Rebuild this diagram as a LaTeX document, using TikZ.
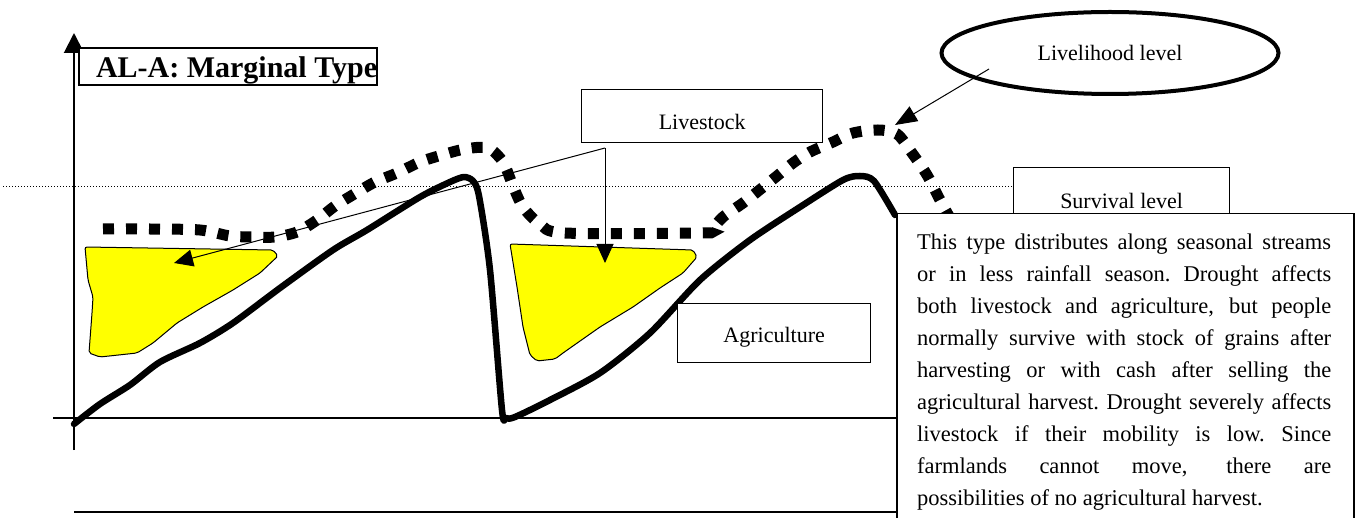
\documentclass[tikz,border=0pt]{standalone}
\usepackage{fontspec}
\setmainfont{Liberation Serif}
\usetikzlibrary{arrows.meta,shapes.geometric}
\definecolor{cropyellow}{RGB}{255,255,0}

% one justified line of the description, spread to the full measure
\newcommand\fullline[1]{\hbox to 414pt{\spaceskip=5.5pt plus 40pt minus 1pt\relax
  \xspaceskip=\spaceskip #1}}

\begin{document}
\begin{tikzpicture}[x=1pt,y=-1pt,
  axisline/.style={line width=2pt},
  guide/.style={line width=0.9pt, dash pattern=on 1pt off 2pt},
  income/.style={line width=6.5pt, line join=round, line cap=round},
  livelihood/.style={line width=11pt, dash pattern=on 11pt off 12pt},
  field/.style={draw, line width=1pt, fill=cropyellow, rounded corners=2pt},
  pointer/.style={line width=1pt, -{Triangle[length=19pt,width=17pt]}},
  boxlabel/.style={draw, line width=1.3pt, fill=white, inner sep=0pt,
                   font=\fontsize{22}{26}\selectfont},
  bodytext/.style={font=\fontsize{22.5}{32}\selectfont},
]
\useasboundingbox (0,0) rectangle (1359,518);

% axes
\coordinate (ybot) at (74,450);
\coordinate (ytop) at (74,33);
\coordinate (xl) at (53,418);
\coordinate (xr) at (896,418);
\coordinate (bl) at (74,512);
\coordinate (br) at (896,512);
\draw[axisline, -{Triangle[length=20pt,width=20pt]}] (ybot) -- (ytop);
\draw[line width=1.5pt] (xl) -- (xr);
\draw[line width=2.5pt] (bl) -- (br);

% survival threshold
\coordinate (gl) at (3,186);
\coordinate (gr) at (1013,186);
\draw[guide] (gl) -- (gr);

% cultivated fields
\draw[field] (85,247) -- (273,250) -- (278,256) -- (260,273) -- (233,290)
  -- (203,307) -- (177,323) -- (153,343) -- (137,353) -- (100,357)
  -- (89,353) -- (92,313) -- (93,297) -- (88,280) -- cycle;
\draw[field] (510,244) -- (693,250) -- (697,257) -- (683,273) -- (660,288)
  -- (633,307) -- (600,327) -- (563,353) -- (555,359) -- (537,361)
  -- (530,355) -- (523,327) -- (517,287) -- cycle;

% income curve
\draw[income] plot[smooth, tension=0.45] coordinates {
  (74,424) (100,404) (130,385) (160,362) (200,343) (233,323) (280,288)
  (333,250) (367,230) (420,197) (450,182) (464,177) (473,181) (479,196)
  (490,270) (502,410) (506,418) (515,417) (550,400) (600,373) (650,333)
  (700,280) (750,240) (800,207) (843,180) (860,176) (874,181) (895,215)};

% livelihood curve
\draw[livelihood] plot[smooth, tension=0.5] coordinates {
  (103,229) (150,229) (200,230) (230,236) (255,237) (275,237) (297,232)
  (317,220) (335,206) (356,193) (375,182) (397,173) (420,162) (442,155)
  (465,149) (488,148) (503,162) (513,186) (523,207) (540,224) (565,233)
  (700,233) (710,231) (723,217) (743,203) (762,188) (777,176) (793,163)
  (810,152) (833,142) (853,133) (878,130) (897,134) (912,153) (927,175)
  (940,200) (950,218)};

% labels
\node[boxlabel, anchor=north west, minimum width=241pt, text height=40pt, text depth=13pt]
  (livestock) at (581,89) {Livestock};
\node[boxlabel, anchor=north west, minimum width=193pt, text height=39pt, text depth=20pt]
  (agri) at (677,303) {Agriculture};
\node[boxlabel, anchor=north west, minimum width=216pt, text height=41pt, text depth=29pt]
  (survival) at (1013,167) {Survival level};

\coordinate (fork) at (605,148);
\coordinate (leftfield) at (174,263);
\coordinate (rightfield) at (605,263);
\draw[pointer] (fork) -- (leftfield);
\draw[pointer] (fork) -- (rightfield);

% title
\node[draw, line width=2pt, fill=white, anchor=north west, inner sep=0pt,
      text height=30pt, text depth=7pt, font=\fontsize{30}{34}\selectfont\bfseries]
  (title) at (78,47) {\hspace{17pt}AL-A: Marginal Type\hspace{1pt}};

% description
\node[draw, line width=1.5pt, fill=white, anchor=north west, inner sep=0pt,
      minimum width=457pt, minimum height=330pt] (desc) at (896,213) {};
\node[bodytext, anchor=north west, inner sep=0pt]
  (desctext) at (917,229) {\vbox{\baselineskip=32pt \lineskiplimit=-20pt
  \fullline{\rule{0pt}{20pt}This type distributes along seasonal streams}
  \fullline{or in less rainfall season. Drought affects}
  \fullline{both livestock and agriculture, but people}
  \fullline{normally survive with stock of grains after}
  \fullline{harvesting or with cash after selling the}
  \fullline{agricultural harvest. Drought severely affects}
  \fullline{livestock if their mobility is low. Since}
  \fullline{farmlands cannot move, there are}
  \hbox{possibilities of no agricultural harvest.}}};

% livelihood level callout
\node[ellipse, draw, line width=4pt, fill=white, inner sep=0pt,
      minimum width=337pt, minimum height=82pt, font=\fontsize{22}{26}\selectfont]
  (ll) at (1110,53) {Livelihood level};
\coordinate (llfoot) at (989,69);
\coordinate (lltip) at (895,125);
\draw[line width=1pt, -{Triangle[length=22pt,width=17pt]}] (llfoot) -- (lltip);
\end{tikzpicture}
\end{document}
